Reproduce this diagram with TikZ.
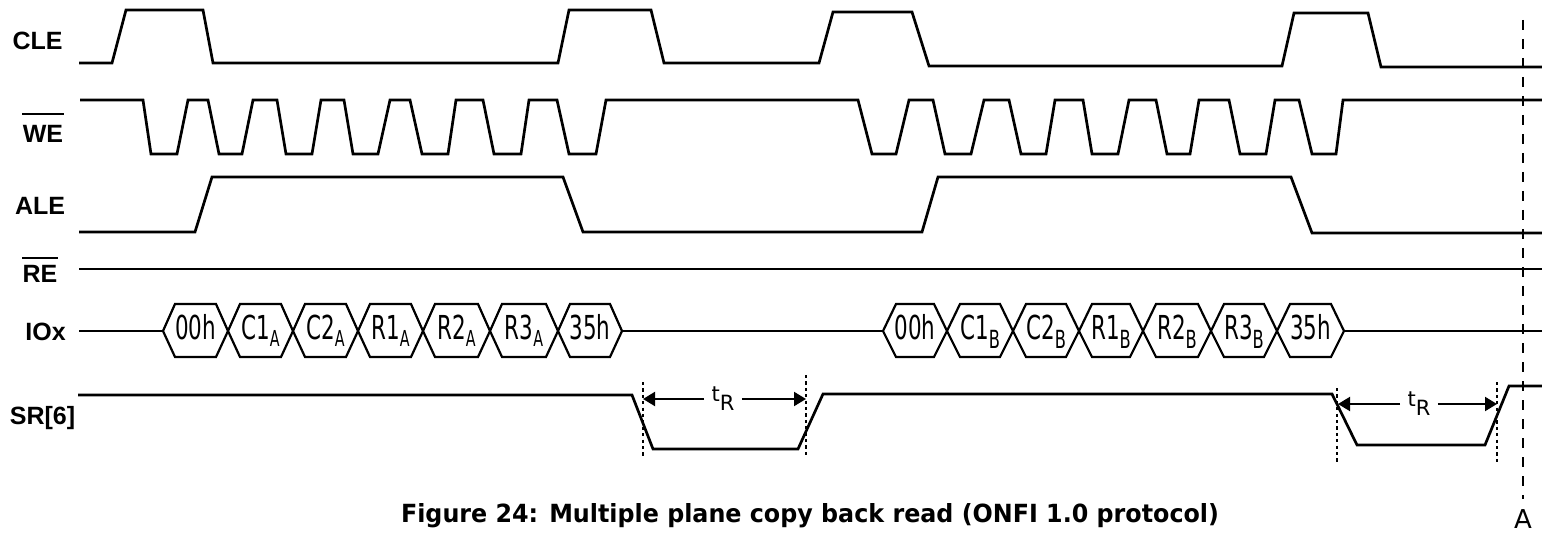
\documentclass[tikz,border=0pt]{standalone}
\usepackage{fontspec}
\usepackage{graphicx}
\usetikzlibrary{arrows.meta}
\newfontfamily\labfont{Liberation Sans}
\newfontfamily\dvs{DejaVu Sans}
\newcommand{\hx}[1]{\scalebox{0.65}[1]{#1}}
\newcommand{\sbA}[1]{\raisebox{-3.5pt}{\fontsize{11}{12}\selectfont #1}}
\newcommand{\sbB}[1]{\raisebox{-5pt}{\fontsize{12.5}{14}\selectfont #1}}
\newcommand{\hexcell}[5]{%
  \draw[hexline] (#2,331) -- (#2+#4,304) -- (#3-#4,304) -- (#3,331) -- (#3-#4,357) -- (#2+#4,357) -- cycle;
  \node[hextext] (#1) at ({(#2+#3)/2},339) {\hx{#5}};
}
\begin{document}
\begin{tikzpicture}[x=0.5pt,y=-0.5pt,
  sig/.style={line width=1.35pt,line join=miter},
  hexline/.style={line width=1.1pt,line join=miter},
  hextext/.style={anchor=base,inner sep=0pt,font=\dvs\fontsize{16.5}{18}\selectfont},
  lbl/.style={anchor=base,inner sep=0pt,font=\labfont\bfseries\fontsize{12.5}{15}\selectfont},
  ovl/.style={line width=1.1pt},
  dotline/.style={line width=0.8pt,dash pattern=on 1.6pt off 1.6pt},
  dashA/.style={line width=1pt,dash pattern=on 5pt off 4.5pt},
  dimarrow/.style={line width=1pt,-{Triangle[length=6pt,width=7pt]}},
  tlabel/.style={inner xsep=3.5pt,inner ysep=0pt,font=\dvs\fontsize{10.5}{12}\selectfont}]
\useasboundingbox (0,0) rectangle (1542,534);

% labels
\node[lbl] (lCLE) at (37.5,50) {CLE};
\node[lbl] (lWE) at (43,143) {WE};
\node[lbl] (lALE) at (40,215) {ALE};
\node[lbl] (lRE) at (40,283) {RE};
\node[lbl] (lIOx) at (45.5,341) {IOx};
\node[lbl] (lSR) at (42.5,424) {SR[6]};
\coordinate (ovWE) at (0,114);
\coordinate (ovRE) at (0,258);
\draw[ovl] (lWE.west |- ovWE) -- (lWE.east |- ovWE);
\draw[ovl] (lRE.west |- ovRE) -- (lRE.east |- ovRE);

% CLE
\draw[sig] (79,63) -- (112,63) -- (126,10) -- (203,10) -- (213,63) -- (558,63) -- (569,10) -- (651,10) -- (664,63)
  -- (819,63) -- (833,12) -- (912,12) -- (929,66) -- (1282,66) -- (1294,13) -- (1368,13) -- (1381,67) -- (1542,67);

% WE
\draw[sig] (80,100) -- (143,100) -- (151,154) -- (177,154) -- (188,100) -- (208,100) -- (219,154) -- (242,154)
  -- (253,100) -- (277,100) -- (286,154) -- (312,154) -- (321,100) -- (344,100) -- (353,154) -- (378,154)
  -- (390,100) -- (410,100) -- (422,154) -- (448,154) -- (456,100) -- (483,100) -- (494,154) -- (521,154)
  -- (529,100) -- (557,100) -- (569,154) -- (596,154) -- (606,100)
  -- (858,100) -- (872,154) -- (896,154) -- (909,100) -- (933,100) -- (945,154) -- (971,154) -- (984,100)
  -- (1009,100) -- (1021,154) -- (1046,154) -- (1055,100) -- (1083,100) -- (1092,154) -- (1118,154)
  -- (1129,100) -- (1156,100) -- (1167,154) -- (1190,154) -- (1199,100) -- (1229,100) -- (1240,154)
  -- (1266,154) -- (1275,100) -- (1299,100) -- (1312,154) -- (1336,154) -- (1343,100) -- (1542,100);

% ALE
\draw[sig] (79,232) -- (195,232) -- (212,177) -- (563,177) -- (583,232) -- (922,232) -- (938,177) -- (1291,177)
  -- (1312,233) -- (1542,233);

% RE
\draw[sig] (79,269) -- (1542,269);

% IOx
\draw[sig] (79,331) -- (163,331);
\draw[sig] (622,331) -- (883,331);
\draw[sig] (1344,331) -- (1542,331);
\hexcell{hA1}{163}{228}{12}{00h}
\hexcell{hA2}{228}{293}{12}{C1\sbA{A}}
\hexcell{hA3}{293}{358}{12}{C2\sbA{A}}
\hexcell{hA4}{358}{423}{12}{R1\sbA{A}}
\hexcell{hA5}{423}{490}{12}{R2\sbA{A}}
\hexcell{hA6}{490}{558}{12}{R3\sbA{A}}
\hexcell{hA7}{558}{622}{12}{35h}
\hexcell{hB1}{883}{947}{13}{00h}
\hexcell{hB2}{947}{1013}{13}{C1\sbB{B}}
\hexcell{hB3}{1013}{1079}{13}{C2\sbB{B}}
\hexcell{hB4}{1079}{1143}{13}{R1\sbB{B}}
\hexcell{hB5}{1143}{1211}{13}{R2\sbB{B}}
\hexcell{hB6}{1211}{1277}{13}{R3\sbB{B}}
\hexcell{hB7}{1277}{1344}{13}{35h}

% SR[6]
\draw[sig] (78,395) -- (632,395) -- (653,449) -- (798,449) -- (823,394) -- (1332,394) -- (1357,445) -- (1485,445)
  -- (1509,386) -- (1542,386);

% tR markers
\draw[dotline] (643,382) -- (643,458);
\draw[dotline] (806,375) -- (806,458);
\draw[dotline] (1337,388) -- (1337,463);
\draw[dotline] (1497,382) -- (1497,463);
\coordinate (d1) at (643,399);
\coordinate (d2) at (806,399);
\coordinate (d3) at (1338,404);
\coordinate (d4) at (1497,404);
\node[tlabel] (tR1) at (723,399) {t\raisebox{-4.5pt}{R}};
\node[tlabel] (tR2) at (1419,404) {t\raisebox{-4.5pt}{R}};
\draw[dimarrow] (tR1) -- (d1);
\draw[dimarrow] (tR1) -- (d2);
\draw[dimarrow] (tR2) -- (d3);
\draw[dimarrow] (tR2) -- (d4);

% A marker
\node[anchor=base,inner sep=0pt,font=\dvs\fontsize{13}{15}\selectfont] (lA) at (1523,528) {A};
\coordinate (Atop) at (1523,20);
\draw[dashA,shorten >=5pt] (Atop) -- (lA.north);

% caption
\node[anchor=base,inner sep=0pt,font=\dvs\bfseries\fontsize{12.5}{15}\selectfont] (cap) at (810,522)
  {\scalebox{0.952}[1]{Figure 24: Multiple plane copy back read (ONFI 1.0 protocol)}};
\end{tikzpicture}
\end{document}
